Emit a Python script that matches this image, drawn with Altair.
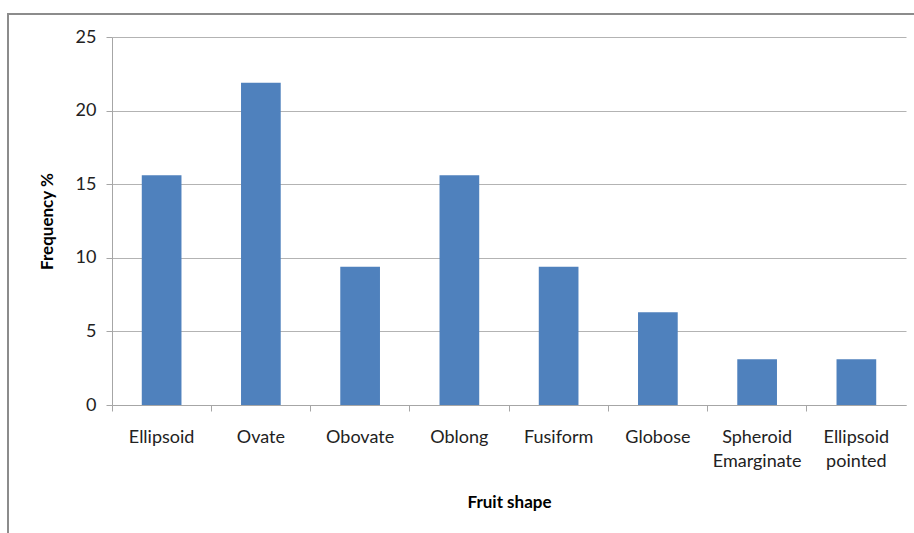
import altair as alt
import pandas as pd

shapes = ["Ellipsoid", "Ovate", "Obovate", "Oblong", "Fusiform", "Globose",
          "Spheroid Emarginate", "Ellipsoid pointed"]
frequency = [15.6, 21.9, 9.4, 15.6, 9.4, 6.3, 3.1, 3.1]
y_ticks = [0, 5, 10, 15, 20, 25]

df = pd.DataFrame({"shape": shapes, "freq": frequency})

FONT = "Lato"
W, H = 794, 368
PL, PT = 112, 37

bars = alt.Chart(df).mark_bar(color="#4F81BD", width=alt.RelativeBandSize(0.4)).encode(
    x=alt.X("shape:N", sort=shapes,
            scale=alt.Scale(paddingInner=0, paddingOuter=0),
            axis=alt.Axis(title="Fruit shape", labelAngle=0, bandPosition=0,
                          labelExpr="split(datum.value, ' ')",
                          labelFont=FONT, labelFontSize=18, labelColor="#222222",
                          labelLineHeight=24, labelPadding=17, labelBaseline="top",
                          tickSize=6, tickColor="#A6A6A6", domainColor="#A6A6A6",
                          titleFont=FONT, titleFontSize=17, titleFontWeight="bold",
                          titleColor="#000000", titlePadding=24, grid=False)),
    y=alt.Y("freq:Q", scale=alt.Scale(domain=[0, 25], nice=False),
            axis=alt.Axis(title="Frequency %", values=y_ticks, format="d",
                          labelFont=FONT, labelFontSize=18, labelColor="#222222",
                          labelPadding=10, tickSize=6, tickColor="#A6A6A6",
                          domainColor="#A6A6A6", gridColor="#B3B3B3",
                          titleFont=FONT, titleFontSize=17, titleFontWeight="bold",
                          titleColor="#000000", titlePadding=19)),
)

border = alt.Chart(df).mark_rect(fill=None, stroke="#8C8C8C", strokeWidth=2).encode(
    x=alt.value(8 - PL), x2=alt.value(914 - PL + 20),
    y=alt.value(14 - PT), y2=alt.value(533 - PT + 20),
)

chart = alt.layer(bars, border).properties(
    width=W, height=H,
    autosize=alt.AutoSizeParams(type="none"),
    padding={"left": PL, "top": PT, "right": 914 - PL - W, "bottom": 533 - PT - H},
    background="white",
).configure_view(stroke=None)

chart.save("out.html", embed_options={"renderer": "svg", "actions": False})
